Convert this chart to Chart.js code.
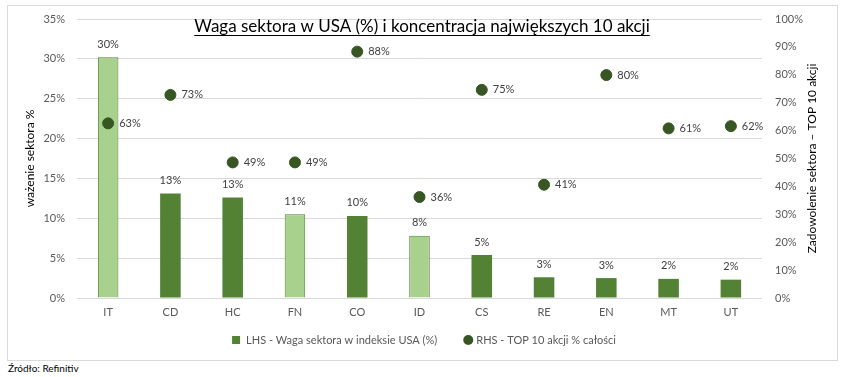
<!DOCTYPE html>
<html lang="pl">
<head>
<meta charset="UTF-8" />
<title>Waga sektora w USA</title>
<script src="https://cdn.jsdelivr.net/npm/chart.js"></script>
<style>
  body { margin: 0; background: #fff; font-family: Lato, sans-serif; }
  .ramka { position: absolute; left: 7px; top: 5px; width: 831px; height: 356px; border: 1px solid #d9d9d9; box-sizing: border-box; }
  .ramka canvas { display: block; }
  .zrodlo { position: absolute; left: 8px; top: 362px; font-size: 10px; color: #000; }
</style>
</head>
<body>
<div class="ramka"><canvas id="wykres" width="829" height="354"></canvas></div>
<div class="zrodlo">Źródło: Refinitiv</div>

<script>
// dane
const sektory = ['IT', 'CD', 'HC', 'FN', 'CO', 'ID', 'CS', 'RE', 'EN', 'MT', 'UT'];
const wagaSektora = [30.2, 13.1, 12.6, 10.5, 10.3, 7.8, 5.4, 2.6, 2.5, 2.4, 2.3];
const top10Udzial = [62.6, 72.8, 48.6, 48.6, 88.3, 36.2, 74.6, 40.6, 79.9, 60.8, 61.6];
const jasneSektory = ['IT', 'FN', 'ID'];
const ticksLewa = [0, 5, 10, 15, 20, 25, 30, 35];
const ticksPrawa = [0, 10, 20, 30, 40, 50, 60, 70, 80, 90, 100];

const ZIELONY = '#548235';
const JASNY = '#a9d18e';
const KROPKA = '#375623';
const TEKST = '#595959';
const FONT = 'Lato, sans-serif';

const etykiety = {
  id: 'etykiety',
  afterDatasetsDraw(chart) {
    const ctx = chart.ctx;
    ctx.save();
    ctx.font = '11px ' + FONT;
    ctx.fillStyle = '#404040';
    ctx.textBaseline = 'middle';
    chart.getDatasetMeta(0).data.forEach((el, i) => {
      ctx.textAlign = 'center';
      ctx.fillText(Math.round(wagaSektora[i]) + '%', el.x, el.y - 13);
    });
    chart.getDatasetMeta(1).data.forEach((el, i) => {
      ctx.textAlign = 'left';
      ctx.fillText(Math.round(top10Udzial[i]) + '%', el.x + 11, el.y);
    });
    ctx.restore();
  },
  afterDraw(chart) {
    const ctx = chart.ctx;
    const a = chart.chartArea;
    ctx.save();
    // tytuł
    ctx.font = '17px ' + FONT;
    ctx.fillStyle = '#000';
    ctx.textAlign = 'center';
    ctx.textBaseline = 'middle';
    const tytul = 'Waga sektora w USA (%) i koncentracja największych 10 akcji';
    const tx = 414, ty = 21;
    ctx.fillText(tytul, tx, ty);
    const w = ctx.measureText(tytul).width;
    ctx.fillRect(tx - w / 2, ty + 8, w, 1);

    // legenda
    ctx.font = '11px ' + FONT;
    ctx.textAlign = 'left';
    const t1 = chart.data.datasets[0].label, t2 = chart.data.datasets[1].label;
    const w1 = ctx.measureText(t1).width, w2 = ctx.measureText(t2).width;
    const calosc = 8 + 6 + w1 + 26 + 10 + 3 + w2;
    let lx = 416 - calosc / 2;
    const ly = 334;
    ctx.fillStyle = ZIELONY;
    ctx.fillRect(lx, ly - 4, 8, 8);
    ctx.fillStyle = TEKST;
    ctx.fillText(t1, lx + 14, ly);
    lx += 14 + w1 + 26;
    ctx.fillStyle = KROPKA;
    ctx.beginPath();
    ctx.arc(lx + 5, ly, 5, 0, Math.PI * 2);
    ctx.fill();
    ctx.fillStyle = TEKST;
    ctx.fillText(t2, lx + 13, ly);

    // tytuły osi
    ctx.font = '12px ' + FONT;
    ctx.fillStyle = '#000';
    ctx.textAlign = 'center';
    const cy = (a.top + a.bottom) / 2;
    ctx.translate(22, cy);
    ctx.rotate(-Math.PI / 2);
    ctx.fillText('ważenie sektora %', 0, 0);
    ctx.rotate(Math.PI / 2);
    ctx.translate(-22, -cy);
    ctx.translate(804, cy);
    ctx.rotate(-Math.PI / 2);
    ctx.fillText('Zadowolenie sektora – TOP 10 akcji', 0, 0);
    ctx.restore();
  }
};

new Chart(document.getElementById('wykres'), {
  data: {
    labels: sektory,
    datasets: [
      {
        type: 'bar',
        label: 'LHS - Waga sektora w indeksie USA (%)',
        data: wagaSektora,
        yAxisID: 'y',
        backgroundColor: sektory.map(s => jasneSektory.includes(s) ? JASNY : ZIELONY),
        borderColor: ZIELONY,
        borderWidth: sektory.map(s => jasneSektory.includes(s) ? 1 : 0),
        categoryPercentage: 1,
        barPercentage: 0.33,
        order: 2
      },
      {
        type: 'line',
        label: 'RHS - TOP 10 akcji % całości',
        data: top10Udzial,
        yAxisID: 'y1',
        showLine: false,
        pointRadius: 5.5,
        pointHoverRadius: 5.5,
        pointBackgroundColor: KROPKA,
        pointBorderColor: KROPKA,
        backgroundColor: KROPKA,
        borderColor: KROPKA,
        order: 1
      }
    ]
  },
  options: {
    responsive: false,
    animation: false,
    layout: { padding: { top: 13, left: 0, right: 0, bottom: 39 } },
    plugins: {
      tooltip: { enabled: false },
      legend: { display: false }
    },
    scales: {
      x: {
        grid: { display: false, drawTicks: false },
        border: { display: false },
        ticks: { color: TEKST, font: { family: FONT, size: 11 }, padding: 8 },
        afterFit: s => { s.height = 23; }
      },
      y: {
        position: 'left',
        min: 0, max: 35,
        afterBuildTicks: s => { s.ticks = ticksLewa.map(v => ({ value: v })); },
        grid: { color: '#d9d9d9', drawTicks: false },
        border: { display: false },
        ticks: { color: TEKST, font: { family: FONT, size: 11 }, padding: 12, callback: v => v + '%' },
        afterFit: s => { s.width = 69; s.paddingTop = 0; s.paddingBottom = 0; }
      },
      y1: {
        position: 'right',
        min: 0, max: 100,
        afterBuildTicks: s => { s.ticks = ticksPrawa.map(v => ({ value: v })); },
        grid: { display: false, drawTicks: false },
        border: { display: false },
        ticks: { color: TEKST, font: { family: FONT, size: 11 }, padding: 13, callback: v => v + '%' },
        afterFit: s => { s.width = 75; s.paddingTop = 0; s.paddingBottom = 0; }
      }
    }
  },
  plugins: [etykiety]
});
</script>
</body>
</html>
